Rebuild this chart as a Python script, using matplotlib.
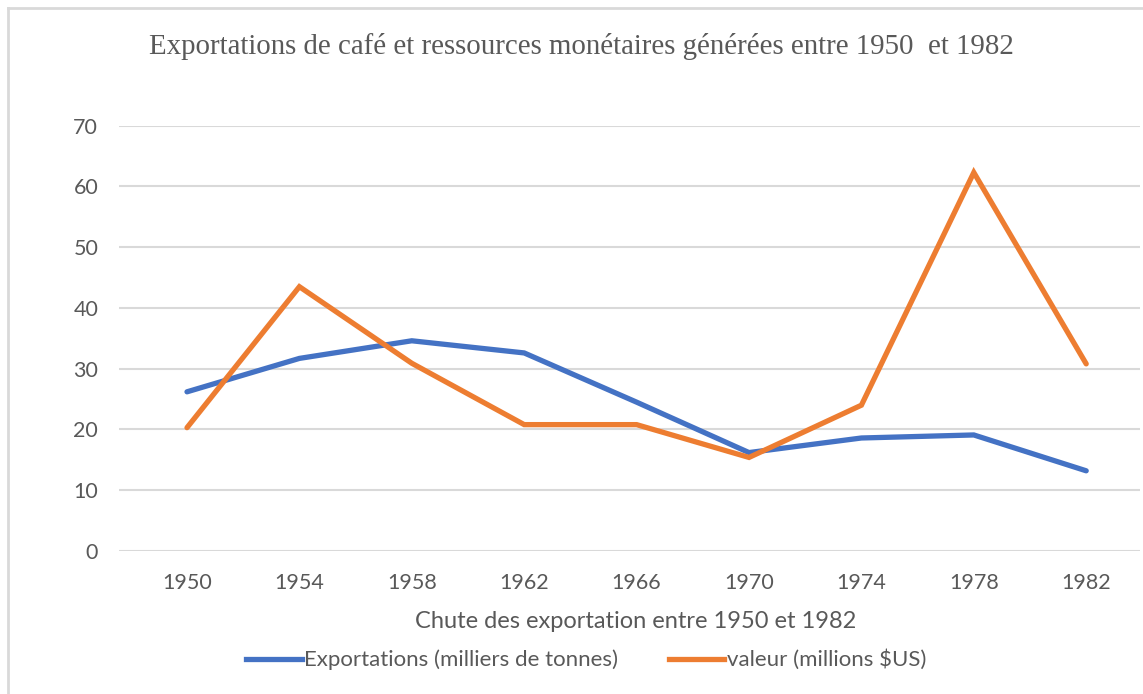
import matplotlib
matplotlib.use("Agg")
import matplotlib.pyplot as plt
from matplotlib.lines import Line2D

years = ["1950", "1954", "1958", "1962", "1966", "1970", "1974", "1978", "1982"]
exportations = [26.2, 31.7, 34.6, 32.6, 24.5, 16.2, 18.6, 19.1, 13.2]
valeur = [20.3, 43.5, 30.9, 20.8, 20.8, 15.4, 24.0, 62.3, 30.8]
y_ticks = [0, 10, 20, 30, 40, 50, 60, 70]

title = "Exportations de café et ressources monétaires générées entre 1950  et 1982"
xlabel = "Chute des exportation entre 1950 et 1982"
labels = ["Exportations (milliers de tonnes)", "valeur (millions $US)"]

BLUE = "#4472C4"
ORANGE = "#ED7D31"
GRAY = "#595959"

W, H = 1143, 694
fig = plt.figure(figsize=(W / 100, H / 100), dpi=100)
fig.patch.set_facecolor("white")

# frame lines (top and left of chart area)
fig.add_artist(Line2D([8 / W, 8 / W], [0, 1 - 8 / H], color="#D9D9D9", lw=2, transform=fig.transFigure))
fig.add_artist(Line2D([8 / W, 1], [1 - 8 / H, 1 - 8 / H], color="#D9D9D9", lw=2, transform=fig.transFigure))

left, right = 119, 1140
top, bottom = 125.7, 551
ax = fig.add_axes([left / W, 1 - bottom / H, (right - left) / W, (bottom - top) / H])

x = list(range(len(years)))
ax.plot(x, exportations, color=BLUE, lw=3.8, solid_joinstyle="miter", solid_capstyle="round", zorder=3)
ax.plot(x, valeur, color=ORANGE, lw=3.8, solid_joinstyle="miter", solid_capstyle="round", zorder=3)

step = 112.4
x0 = 187
ax.set_xlim((left - x0) / step, (right - x0) / step)
ax.set_ylim(0, 70)
ax.set_yticks(y_ticks)
ax.set_xticks(x)
ax.set_xticklabels(years)
ax.grid(axis="y", color="#D9D9D9", lw=1.5)
ax.set_axisbelow(True)
for s in ax.spines.values():
    s.set_visible(False)
ax.tick_params(length=0, labelsize=15.5, labelcolor=GRAY)
ax.tick_params(axis="y", pad=15)
ax.tick_params(axis="x", pad=16)
for lab in ax.get_xticklabels() + ax.get_yticklabels():
    lab.set_family("Lato")

fig.text(581 / W, 1 - 47 / H, title, ha="center", va="center", fontsize=20.8,
         family="Liberation Serif", color=GRAY)
fig.text(636 / W, 1 - 621 / H, xlabel, ha="center", va="center", fontsize=17,
         family="Lato", color=GRAY)

handles = [Line2D([0], [0], color=BLUE, lw=3.8), Line2D([0], [0], color=ORANGE, lw=3.8)]
leg = fig.legend(handles, labels, loc="center", bbox_to_anchor=(586 / W, 1 - 660 / H), ncol=2,
                 frameon=False, handlelength=2.5, handletextpad=0.1, columnspacing=2.3,
                 prop={"family": "Lato", "size": 16})
for t in leg.get_texts():
    t.set_color(GRAY)

fig.savefig("out.png", dpi=100, facecolor="white")
